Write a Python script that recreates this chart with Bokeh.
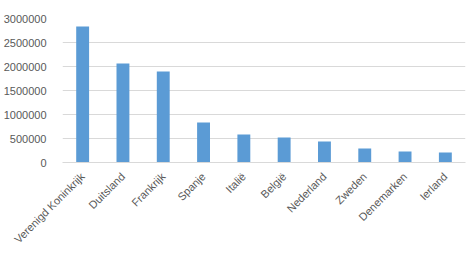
import math
from bokeh.plotting import figure
from bokeh.models import FactorRange, Range1d, FixedTicker, NumeralTickFormatter
from bokeh.embed import file_html
from bokeh.resources import INLINE

countries = ["Verenigd Koninkrijk", "Duitsland", "Frankrijk", "Spanje", "Italië",
             "België", "Nederland", "Zweden", "Denemarken", "Ierland"]
values = [2833000, 2062000, 1896000, 833000, 583000, 521000, 437000, 292000, 229000, 208000]
y_ticks = [0, 500000, 1000000, 1500000, 2000000, 2500000, 3000000]

p = figure(width=476, height=255, x_range=FactorRange(factors=countries, range_padding=0),
           y_range=Range1d(0, 3000000), output_backend="svg", toolbar_location=None,
           min_border_left=61, min_border_right=12, min_border_top=18, min_border_bottom=93)
p.frame_width = 403
p.frame_height = 144

p.vbar(x=countries, top=values, width=0.32, color="#5b9bd5", line_color=None)

p.outline_line_color = None
p.xgrid.grid_line_color = None
p.ygrid.grid_line_color = "#d9d9d9"
p.ygrid.grid_line_width = 1
p.yaxis.ticker = FixedTicker(ticks=y_ticks)
p.yaxis.formatter = NumeralTickFormatter(format="0")
p.yaxis.axis_line_color = None
p.yaxis.major_tick_line_color = None
p.yaxis.minor_tick_line_color = None
p.yaxis.major_label_text_font = "Liberation Sans"
p.yaxis.major_label_text_font_size = "11px"
p.yaxis.major_label_text_color = "#595959"
p.yaxis.major_label_standoff = 10

p.xaxis.axis_line_color = "#d9d9d9"
p.xaxis.major_tick_line_color = None
p.xaxis.minor_tick_line_color = None
p.xaxis.major_label_orientation = math.pi / 4
p.xaxis.major_label_text_font = "Liberation Sans"
p.xaxis.major_label_text_font_size = "11px"
p.xaxis.major_label_text_color = "#595959"
p.xaxis.major_label_standoff = 6

open("out.html", "w").write(file_html(p, INLINE))
